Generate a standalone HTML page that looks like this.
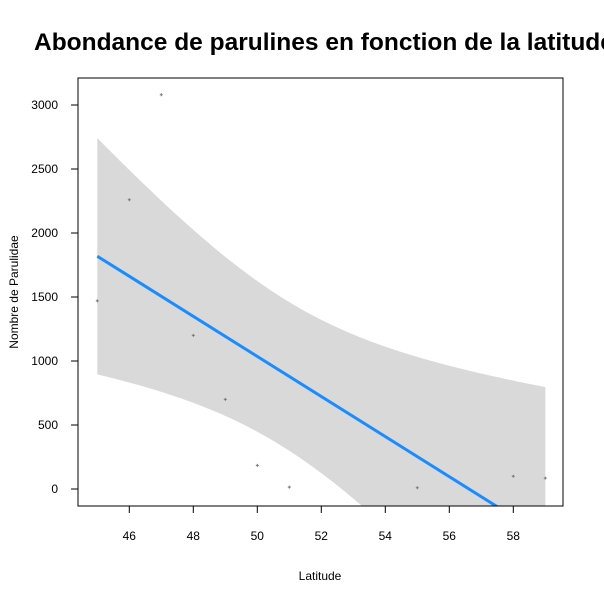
<!DOCTYPE html>
<html><head><meta charset="utf-8"><style>
html,body{margin:0;padding:0;background:#fff;overflow:hidden;width:604px;height:604px;}
svg{display:block;overflow:hidden;font-family:"Liberation Sans",Arial,sans-serif;}
</style></head><body>
<svg id="chart" width="604" height="604" viewBox="0 0 604 604" overflow="hidden">
<defs><clipPath id="plotclip"><rect x="78" y="78" width="485" height="428"/></clipPath><clipPath id="pageclip"><rect x="0" y="0" width="604" height="604"/></clipPath></defs>
<g clip-path="url(#pageclip)">
<text x="34" y="50" font-size="24.5" font-weight="bold" fill="#000">Abondance de parulines en fonction de la latitude</text>
</g>
<g id="band" clip-path="url(#plotclip)"></g>
<g id="marks" clip-path="url(#plotclip)"></g>
<rect x="78" y="78" width="485" height="428" fill="none" stroke="#000" stroke-width="1"/>
<g id="axes"></g>
<text x="320" y="580" font-size="12" text-anchor="middle">Latitude</text>
<text transform="translate(18,292) rotate(-90)" font-size="12" text-anchor="middle">Nombre de Parulidae</text>
</svg>
<script>
const latitudes=[45,46,47,48,49,50,51,55,58,59];
const counts=[1470,2260,3080,1200,700,185,15,10,100,85];
const xTicks=[46,48,50,52,54,56,58];
const yTicks=[0,500,1000,1500,2000,2500,3000];
const NS='http://www.w3.org/2000/svg';
function xs(v){return 97.3+(v-45)*32;}
function ys(v){return 489-v*0.128;}
function mk(tag,attrs,parent){const e=document.createElementNS(NS,tag);for(const k in attrs)e.setAttribute(k,attrs[k]);parent.appendChild(e);return e;}
const n=latitudes.length;
const mx=latitudes.reduce((a,b)=>a+b,0)/n, my=counts.reduce((a,b)=>a+b,0)/n;
let sxx=0,sxy=0;for(let i=0;i<n;i++){sxx+=(latitudes[i]-mx)**2;sxy+=(latitudes[i]-mx)*(counts[i]-my);}
const b=sxy/sxx,a=my-b*mx;
let sse=0;for(let i=0;i<n;i++){sse+=(counts[i]-a-b*latitudes[i])**2;}
const s=Math.sqrt(sse/(n-2)),t=2.306;
const x0=Math.min(...latitudes),x1=Math.max(...latitudes);
let up=[],lo=[];
for(let k=0;k<=80;k++){const x=x0+(x1-x0)*k/80;const f=a+b*x;const h=t*s*Math.sqrt(1/n+(x-mx)**2/sxx);up.push(xs(x)+','+ys(f+h));lo.unshift(xs(x)+','+ys(f-h));}
const band=mk('polygon',{points:up.concat(lo).join(' '),fill:'#d9d9d9'},document.getElementById('band'));


const marks=document.getElementById('marks');
const line=mk('line',{x1:xs(x0),y1:ys(a+b*x0),x2:xs(x1),y2:ys(a+b*x1),stroke:'#1a8cff','stroke-width':3},marks);


for(let i=0;i<n;i++){
 const g=mk('path',{d:`M${xs(latitudes[i])-1.5},${ys(counts[i])}h3M${xs(latitudes[i])},${ys(counts[i])-1.5}v3`,stroke:'#777','stroke-width':1},marks);
 
 
}
const axes=document.getElementById('axes');
for(const v of xTicks){
 const tk=mk('line',{x1:xs(v),y1:506,x2:xs(v),y2:513,stroke:'#000'},axes);
 
 
 const tl=mk('text',{x:xs(v),y:540,'font-size':12,'text-anchor':'middle'},axes);tl.textContent=v;
 
 
}
for(const v of yTicks){
 const tk=mk('line',{x1:71,y1:ys(v),x2:78,y2:ys(v),stroke:'#000'},axes);
 
 
 const tl=mk('text',{x:58,y:ys(v)+4,'font-size':12,'text-anchor':'end'},axes);tl.textContent=v;
 
 
}
</script>
</body></html>
